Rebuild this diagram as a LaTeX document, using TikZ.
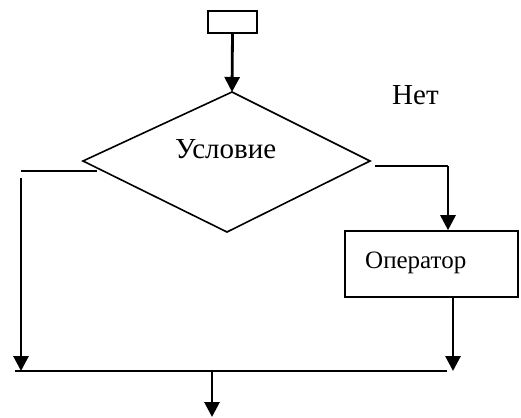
\documentclass[tikz,border=0pt]{standalone}
\usepackage{fontspec}
\setmainfont{Liberation Serif}
\usetikzlibrary{arrows.meta}
\tikzset{
  thin line/.style={line width=1.6pt},
  flow/.style={line width=2.8pt, -{Triangle[width=15pt,length=15pt]}},
  lbl/.style={anchor=base west, inner sep=0pt},
  bigtext/.style={font=\fontsize{29}{34}\selectfont},
  smalltext/.style={font=\fontsize{25}{30}\selectfont}
}
\begin{document}
\begin{tikzpicture}[x=1pt,y=-1pt]
\useasboundingbox (0,0) rectangle (521,417);

% start block
\node[draw, thin line, minimum width=49pt, minimum height=22pt, inner sep=0pt] (start) at (232.5,22) {};

% decision
\coordinate (dt) at (232,92);
\coordinate (dr) at (370,161);
\coordinate (db) at (227,232);
\coordinate (dl) at (83,161);
\draw[thin line, line join=miter] (dt) -- (dr) -- (db) -- (dl) -- cycle;
\node[lbl, bigtext] (cond) at (175,158) {Условие};
\node[lbl, bigtext] (no) at (392,105) {Нет};

% operator block
\node[draw, thin line, minimum width=173pt, minimum height=66pt, inner sep=0pt] (op) at (431.5,264) {};
\node[lbl, smalltext] (optext) at (365,268) {Оператор};

% connectors
\coordinate (rs) at (375,166);
\coordinate (rc) at (448,166);
\coordinate (ls) at (97,171);
\coordinate (lc) at (21,171);
\coordinate (lv) at (21,178);
\coordinate (lend) at (21,371);
\coordinate (rend) at (453,371);
\coordinate (jl) at (15,371);
\coordinate (jr) at (447,371);
\coordinate (jm) at (212,371);
\coordinate (out) at (212,417);

\draw[flow] (start.south) -- (dt);
\draw[thin line] (rs) -- (rc);
\draw[flow] (rc) -- (rc |- op.north);
\draw[thin line] (ls) -- (lc);
\draw[flow] (lv) -- (lend);
\draw[flow] (op.south -| rend) -- (rend);
\draw[thin line] (jl) -- (jr);
\draw[flow] (jm) -- (out);
\end{tikzpicture}
\end{document}
